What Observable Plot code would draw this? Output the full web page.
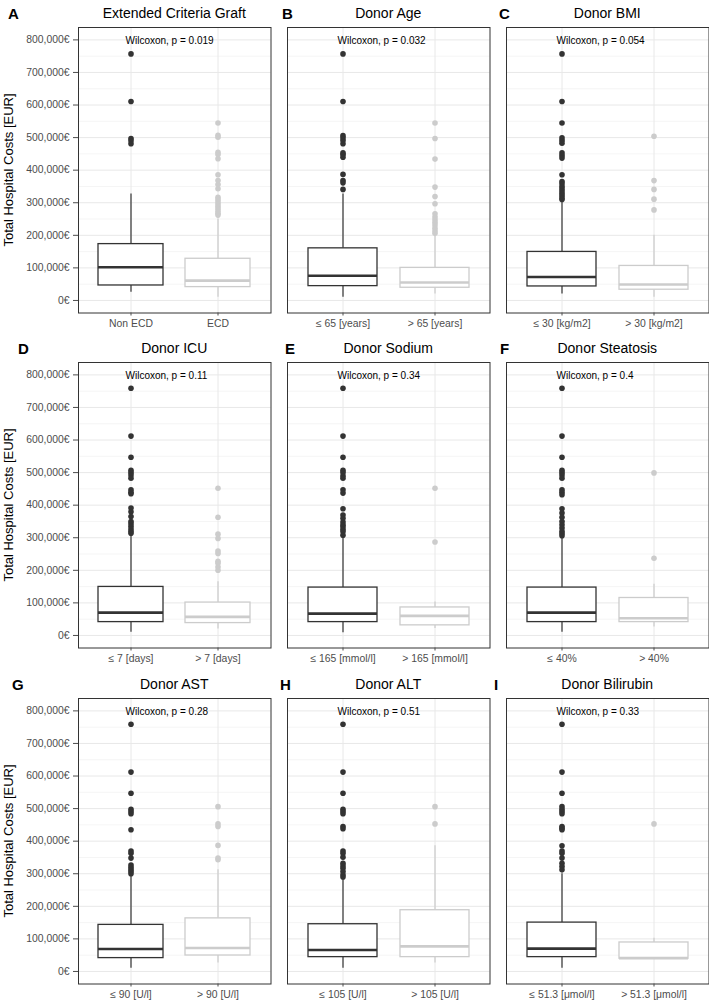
<!DOCTYPE html>
<html><head><meta charset="utf-8">
<script src="https://cdn.jsdelivr.net/npm/d3@7"></script>
<script src="https://cdn.jsdelivr.net/npm/@observablehq/plot@0.6"></script>
<style>
body{margin:0;background:#fff;font-family:"Liberation Sans",Arial,sans-serif;}
#root{position:relative;width:709px;height:1000px;overflow:hidden;background:#fff;}
.abs{position:absolute;white-space:nowrap;line-height:1;}
.letter{font-weight:bold;font-size:15px;transform:translate(0,-50%);color:#000;}
.title{font-size:14px;transform:translate(-50%,-50%);color:#000;}
.ylab{font-size:13px;transform:translate(-50%,-50%) rotate(-90deg);color:#000;}
svg{position:absolute;}
</style></head><body><div id="root"></div>
<script>
// ---------------- data ----------------
const panelLetters = ["A","B","C","D","E","F","G","H","I"];
const panelTitles = ["Extended Criteria Graft","Donor Age","Donor BMI","Donor ICU","Donor Sodium","Donor Steatosis","Donor AST","Donor ALT","Donor Bilirubin"];
const pValues = ["0.019","0.032","0.054","0.11","0.34","0.4","0.28","0.51","0.33"];
const groupLabels = [
  ["Non ECD","ECD"],
  ["≤ 65 [years]","> 65 [years]"],
  ["≤ 30 [kg/m2]","> 30 [kg/m2]"],
  ["≤ 7 [days]","> 7 [days]"],
  ["≤ 165 [mmol/l]","> 165 [mmol/l]"],
  ["≤ 40%","> 40%"],
  ["≤ 90 [U/l]","> 90 [U/l]"],
  ["≤ 105 [U/l]","> 105 [U/l]"],
  ["≤ 51.3 [μmol/l]","> 51.3 [μmol/l]"]
];
// box statistics in EUR, [group 1, group 2] per panel
const whiskerLow = [[25000,10000],[10000,20000],[20000,10000],[10000,20000],[8000,21000],[10000,26000],[10000,26000],[10000,26000],[10000,39000]];
const quartile1  = [[46000,41000],[44000,39000],[43000,33000],[41000,38000],[41000,31000],[41000,41000],[41000,49000],[44000,44000],[44000,39000]];
const medians    = [[102000,61000],[76000,55000],[72000,49000],[70000,57000],[67000,60000],[70000,53000],[69000,72000],[66000,77000],[70000,41000]];
const quartile3  = [[173000,128000],[160000,100000],[149000,106000],[149000,101000],[147000,86000],[147000,115000],[143000,163000],[145000,188000],[150000,89000]];
const whiskerHigh= [[327000,250000],[327000,200000],[307000,200000],[308000,165000],[301000,103000],[300000,157000],[295000,312000],[285000,386000],[300000,102000]];
// outliers in thousand EUR
const outliersGroup1 = [
  [757,611,497,490,481],
  [757,611,506,499,491,481,453,448,440,387,368,361,341],
  [757,611,545,499,491,483,453,445,437,386,365,358,350,343,336,329,322,315,310],
  [759,612,547,507,500,493,483,447,440,435,391,380,365,350,343,335,327,320,314],
  [759,612,547,507,500,490,483,447,437,389,370,360,348,340,334,326,319,308],
  [759,612,547,507,500,493,483,447,440,432,389,376,363,350,340,330,320,313,306],
  [759,612,547,498,491,484,435,370,363,348,327,320,313,307,300],
  [759,612,547,498,491,484,445,438,370,363,351,332,324,317,307,297,290],
  [759,612,547,506,498,491,484,445,440,435,386,370,363,348,332,322,312]
];
const outliersGroup2 = [
  [545,507,501,455,448,435,386,368,356,343,317,310,303,296,289,282,275,268,262],
  [545,497,434,348,319,297,266,256,248,240,232,222,213,206],
  [504,368,341,311,278],
  [452,363,311,298,259,252,228,222,210,200],
  [452,287],
  [499,237],
  [506,453,445,387,348,343],
  [506,453],
  [453]
];
const wilcoxonY = 797000;
const yTicks = [0,100000,200000,300000,400000,500000,600000,700000,800000];
const yMinor = [50000,150000,250000,350000,450000,550000,650000,750000];
const yLabel = "Total Hospital Costs [EUR]";

// ---------------- layout ----------------
const groupColors = ["#333333","#cccccc"];
const colLeft = [78, 287, 506];
const colWidth = [192.5, 202.5, 202.5];
const rowTop = [27.3, 362.3, 698.3];
const frameH = 285.5;
const yDomain = [-38500, 838000];
const letterX = [[8,282,499],[18,285,500],[12,280,494]];
const headY = [12.5, 348, 684];

const root = document.getElementById("root");
function addDiv(cls, text, left, top){
  const d = document.createElement("div");
  d.className = "abs " + cls;
  d.textContent = text;
  d.style.left = left + "px";
  d.style.top = top + "px";
  root.appendChild(d);
}

for (let i = 0; i < 9; i++) {
  const r = Math.floor(i/3), c = i % 3;
  const cats = groupLabels[i];
  const stats = cats.map((g, k) => ({
    group: g, color: groupColors[k],
    lo: whiskerLow[i][k], q1: quartile1[i][k], med: medians[i][k],
    q3: quartile3[i][k], hi: whiskerHigh[i][k]
  }));
  const outs = [];
  outliersGroup1[i].forEach(v => outs.push({group: cats[0], value: v*1000, color: groupColors[0]}));
  outliersGroup2[i].forEach(v => outs.push({group: cats[1], value: v*1000, color: groupColors[1]}));
  const mL = c === 0 ? 78 : 2, mR = 2, mT = 2, mB = 24;
  const plot = Plot.plot({
    width: colWidth[c] + mL + mR,
    height: frameH + mT + mB,
    marginLeft: mL, marginRight: mR, marginTop: mT, marginBottom: mB,
    style: {fontFamily: "'Liberation Sans', Arial, sans-serif", fontSize: "10.4px", background: "white", overflow: "visible"},
    x: {type: "band", domain: cats, paddingInner: 0.25, paddingOuter: 0.225, align: 0.5},
    y: {domain: yDomain},
    color: {type: "identity"},
    marks: [
      Plot.ruleY(yMinor, {stroke: "#f2f2f2", strokeWidth: 0.8}),
      Plot.ruleY(yTicks, {stroke: "#e8e8e8", strokeWidth: 1}),
      Plot.ruleX(cats, {stroke: "#e8e8e8", strokeWidth: 1}),
      Plot.ruleX(stats, {x: "group", y1: "lo", y2: "q1", stroke: d => d.color, strokeWidth: 1.2}),
      Plot.ruleX(stats, {x: "group", y1: "q3", y2: "hi", stroke: d => d.color, strokeWidth: 1.2}),
      Plot.barY(stats, {x: "group", y1: "q1", y2: "q3", fill: "white", stroke: d => d.color, strokeWidth: 1.3}),
      Plot.tickY(stats, {x: "group", y: "med", stroke: d => d.color, strokeWidth: 2.6}),
      Plot.dot(outs, {x: "group", y: "value", fill: d => d.color, r: 2.8}),
      Plot.text([{group: cats[0], y: wilcoxonY, label: "Wilcoxon, p = " + pValues[i]}],
        {x: "group", y: "y", text: "label", textAnchor: "start", dx: -5.5, fontSize: 10, fill: "#000"}),
      Plot.frame({stroke: "#333", strokeWidth: 1}),
      c === 0 ? Plot.axisY(yTicks, {tickFormat: d => d3.format(",")(d) + "€", tickSize: 5, tickPadding: 4, label: null, color: "#4d4d4d"}) : Plot.axisY([], {label: null}),
      Plot.axisX({tickSize: 3, tickPadding: 3.5, label: null, color: "#4d4d4d"})
    ]
  });
  plot.style.left = (colLeft[c] - mL) + "px";
  plot.style.top = (rowTop[r] - mT) + "px";
  root.appendChild(plot);

  addDiv("letter", panelLetters[i], letterX[r][c], headY[r]);
  addDiv("title", panelTitles[i], colLeft[c] + colWidth[c]/2, headY[r]);
  if (c === 0) addDiv("ylab", yLabel, 7.5, rowTop[r] + frameH/2);
}
</script>
</body></html>
